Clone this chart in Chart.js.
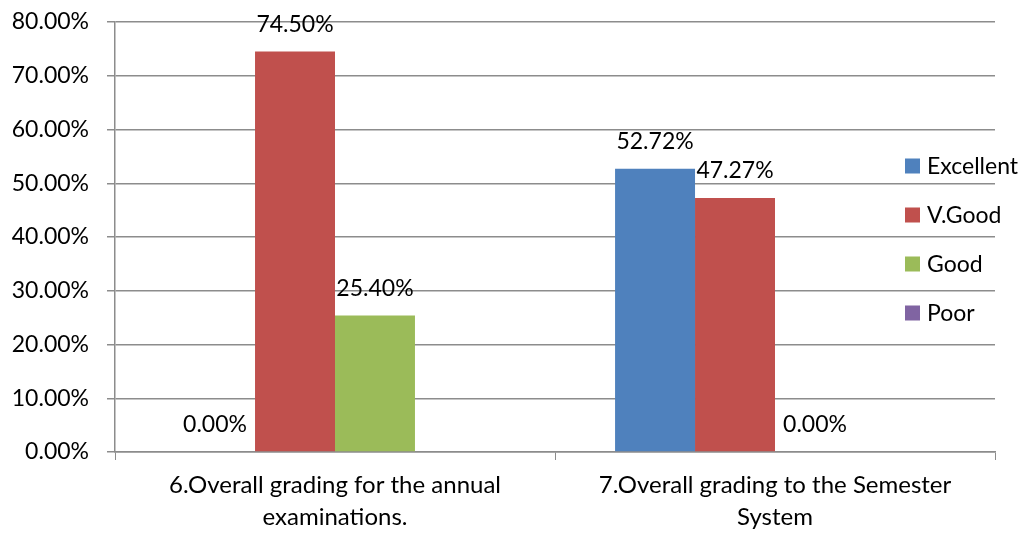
<!DOCTYPE html>
<html>
<head>
<meta charset="utf-8">
<script src="https://cdn.jsdelivr.net/npm/chart.js@4.4.1/dist/chart.umd.min.js"></script>
<style>
  html, body { margin: 0; padding: 0; background: #fff; }
  #wrap { width: 1032px; height: 533px; position: relative; }
</style>
</head>
<body>
<div id="wrap"><canvas id="chart"></canvas></div>
<script>
// grading survey — two questions, four grades
const categories = [
  ['6.Overall grading for the annual', 'examinations.'],
  ['7.Overall grading to the Semester', 'System']
];
const seriesNames = ['Excellent', 'V.Good', 'Good', 'Poor'];
const excellent = [0.00, 52.72];
const vGood = [74.50, 47.27];
const good = [25.40, 0.00];
const poor = [null, null];
const yTicks = [0, 10, 20, 30, 40, 50, 60, 70, 80];

const colors = ['#4F81BD', '#C0504D', '#9BBB59', '#8064A2'];
const FONT = 'Lato, "Open Sans", sans-serif';
const gridColor = '#8c8c8c';

// value labels above each bar
const barLabels = {
  id: 'barLabels',
  afterDatasetsDraw(chart) {
    const ctx = chart.ctx;
    ctx.save();
    ctx.font = '23px ' + FONT;
    ctx.fillStyle = '#000';
    ctx.textAlign = 'center';
    ctx.textBaseline = 'middle';
    chart.data.datasets.forEach((ds, i) => {
      const meta = chart.getDatasetMeta(i);
      meta.data.forEach((bar, j) => {
        const v = ds.data[j];
        if (v === null || v === undefined) return;
        ctx.fillText(v.toFixed(2) + '%', bar.x, bar.y - 27);
      });
    });
    ctx.restore();
  }
};

// legend drawn over the right part of the plot, like the original
const sideLegend = {
  id: 'sideLegend',
  afterDraw(chart) {
    const ctx = chart.ctx;
    const area = chart.chartArea;
    const n = chart.data.datasets.length;
    const step = 49;
    const mid = (area.top + area.bottom) / 2 + 2;
    const x = area.right - 90;
    ctx.save();
    ctx.font = '23px ' + FONT;
    ctx.textAlign = 'left';
    ctx.textBaseline = 'middle';
    chart.data.datasets.forEach((ds, i) => {
      const y = mid + (i - (n - 1) / 2) * step;
      ctx.fillStyle = ds.backgroundColor;
      ctx.fillRect(x, y - 7, 15, 15);
      ctx.fillStyle = '#000';
      ctx.fillText(ds.label, x + 22, y + 1);
    });
    ctx.restore();
  }
};

const ctx = document.getElementById('chart').getContext('2d');
new Chart(ctx, {
  type: 'bar',
  data: {
    labels: categories,
    datasets: [excellent, vGood, good, poor].map((d, i) => ({
      label: seriesNames[i],
      data: d,
      backgroundColor: colors[i],
      borderWidth: 0,
      barPercentage: 1,
      categoryPercentage: 0.727
    }))
  },
  options: {
    responsive: true,
    maintainAspectRatio: false,
    animation: false,
    layout: { padding: { left: 8, right: 37, top: 22, bottom: 0 } },
    plugins: { legend: { display: false }, tooltip: { enabled: false } },
    scales: {
      x: {
        grid: { drawOnChartArea: false, color: gridColor, tickLength: 8, offset: true },
        border: { color: gridColor, width: 1.5 },
        ticks: { color: '#000', font: { family: FONT, size: 24, lineHeight: 1.3 }, padding: 10, maxRotation: 0 },
        afterFit(s) { s.height = 81; s.paddingLeft = 0; s.paddingRight = 0; }
      },
      y: {
        min: 0,
        max: 80,
        afterBuildTicks(s) { s.ticks = yTicks.map(v => ({ value: v })); },
        grid: { color: gridColor, lineWidth: 1.5, tickLength: 8 },
        border: { color: gridColor, width: 1.5 },
        ticks: {
          color: '#000',
          padding: 18,
          font: { family: FONT, size: 23 },
          callback: v => v.toFixed(2) + '%'
        },
        afterFit(s) { s.width = 107; s.paddingTop = 0; s.paddingBottom = 0; }
      }
    }
  },
  plugins: [barLabels, sideLegend]
});
</script>
</body>
</html>
